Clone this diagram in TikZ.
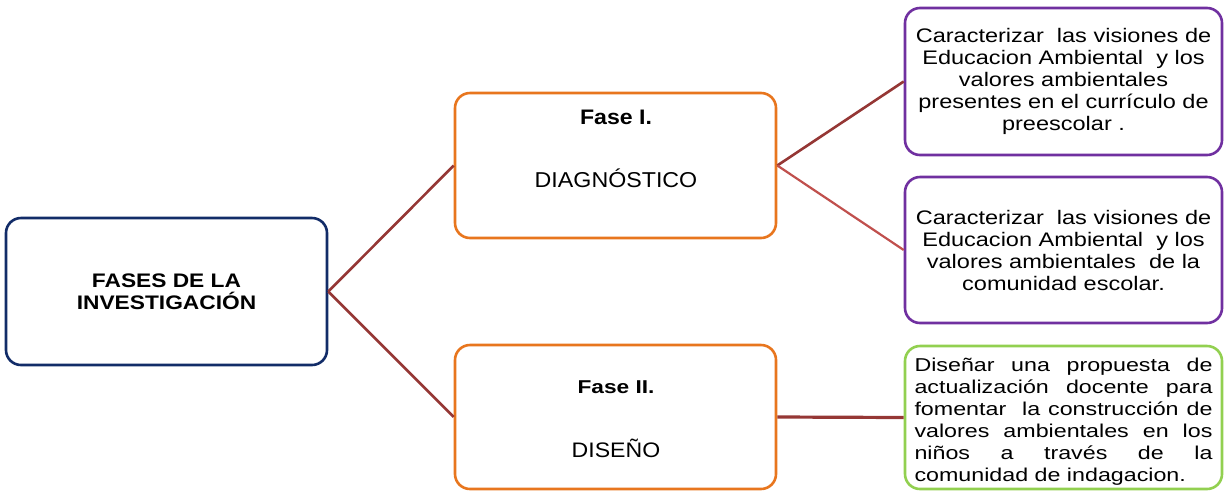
\documentclass[tikz,border=0pt]{standalone}
\usepackage{fontspec}
\setmainfont{Liberation Sans}
\newfontfamily\fRoot[FakeStretch=1.16]{Liberation Sans}
\newfontfamily\fFaseA[FakeStretch=1.10]{Liberation Sans}
\newfontfamily\fFaseB[FakeStretch=1.22]{Liberation Sans}
\newfontfamily\fTitle[FakeStretch=1.08]{Liberation Sans}
\newfontfamily\fPurple[FakeStretch=1.20]{Liberation Sans}
\newfontfamily\fGreen[FakeStretch=1.25]{Liberation Sans}
\definecolor{navyc}{RGB}{18,44,104}
\definecolor{orangec}{RGB}{232,118,30}
\definecolor{purplec}{RGB}{112,48,160}
\definecolor{greenc}{RGB}{146,208,80}
\definecolor{linkc}{RGB}{149,55,53}
\definecolor{linklc}{RGB}{192,80,77}
\tikzset{
  box/.style={draw, line width=2.6pt, rounded corners=15pt, inner sep=0pt, fill=white, align=center},
  rootbox/.style={box, draw=navyc, minimum width=321pt, minimum height=147pt,
    font=\fRoot\bfseries\fontsize{19.6}{22.5}\selectfont},
  phasebox/.style={box, draw=orangec, minimum width=321pt},
  goalbox/.style={box, draw=purplec, minimum width=317pt,
    font=\fPurple\fontsize{19.6}{22}\selectfont},
  greenbox/.style={box, draw=greenc, minimum width=317pt, minimum height=143pt,
    font=\fGreen\fontsize{18.6}{22}\selectfont},
  link/.style={draw=linkc, line width=2.6pt},
  linklight/.style={draw=linklc, line width=2.2pt},
  lbl/.style={inner sep=0pt, anchor=base},
}
\begin{document}
\begin{tikzpicture}[x=1pt,y=-1pt]
\useasboundingbox (0,0) rectangle (1225,491);
% boxes
\node[rootbox] (root) at (166.5,291.5) {FASES DE LA\\INVESTIGACIÓN};
\node[phasebox, minimum height=145pt] (f1) at (615.5,165.5) {};
\node[phasebox, minimum height=144pt] (f2) at (615.5,417) {};
\node[goalbox, minimum height=147pt] (p1) at (1063.5,81.5)
  {Caracterizar\ \ las visiones de\\
   Educacion Ambiental\ \ y los\\
   valores ambientales\\
   presentes en el currículo de\\
   preescolar .};
\node[goalbox, minimum height=146pt] (p2) at (1063.5,250)
  {Caracterizar\ \ las visiones de\\
   Educacion Ambiental\ \ y los\\
   valores ambientales\ \ de la\\
   comunidad escolar.};
\node[greenbox, align=left] (p3) at (1063.5,417.5)
  {\rule{0pt}{22pt}\makebox[298pt][s]{Diseñar una propuesta de}\\
   \makebox[298pt][s]{actualización docente para}\\
   \makebox[298pt][s]{fomentar\ \ la construcción de}\\
   \makebox[298pt][s]{valores ambientales en los}\\
   \makebox[298pt][s]{niños a través de la}\\
   \makebox[298pt][l]{comunidad de indagacion.}};
% texts inside phase boxes
\node[lbl, font=\fFaseA\bfseries\fontsize{21}{24}\selectfont] (f1a) at (616,124) {Fase I.};
\node[lbl, font=\fTitle\fontsize{21.5}{24}\selectfont] (f1b) at (616,187) {DIAGNÓSTICO};
\node[lbl, font=\fFaseB\bfseries\fontsize{18.6}{22}\selectfont] (f2a) at (616,393) {Fase II.};
\node[lbl, font=\fFaseA\fontsize{21}{24}\selectfont] (f2b) at (616,457) {DISEÑO};
% connectors
\draw[link] (root.east) -- (f1.west);
\draw[link] (root.east) -- (f2.west);
\draw[link] (f1.east) -- (p1.west);
\draw[linklight] (f1.east) -- (p2.west);
\draw[link, line width=3.2pt] (f2.east) -- (p3.west);
\end{tikzpicture}
\end{document}
